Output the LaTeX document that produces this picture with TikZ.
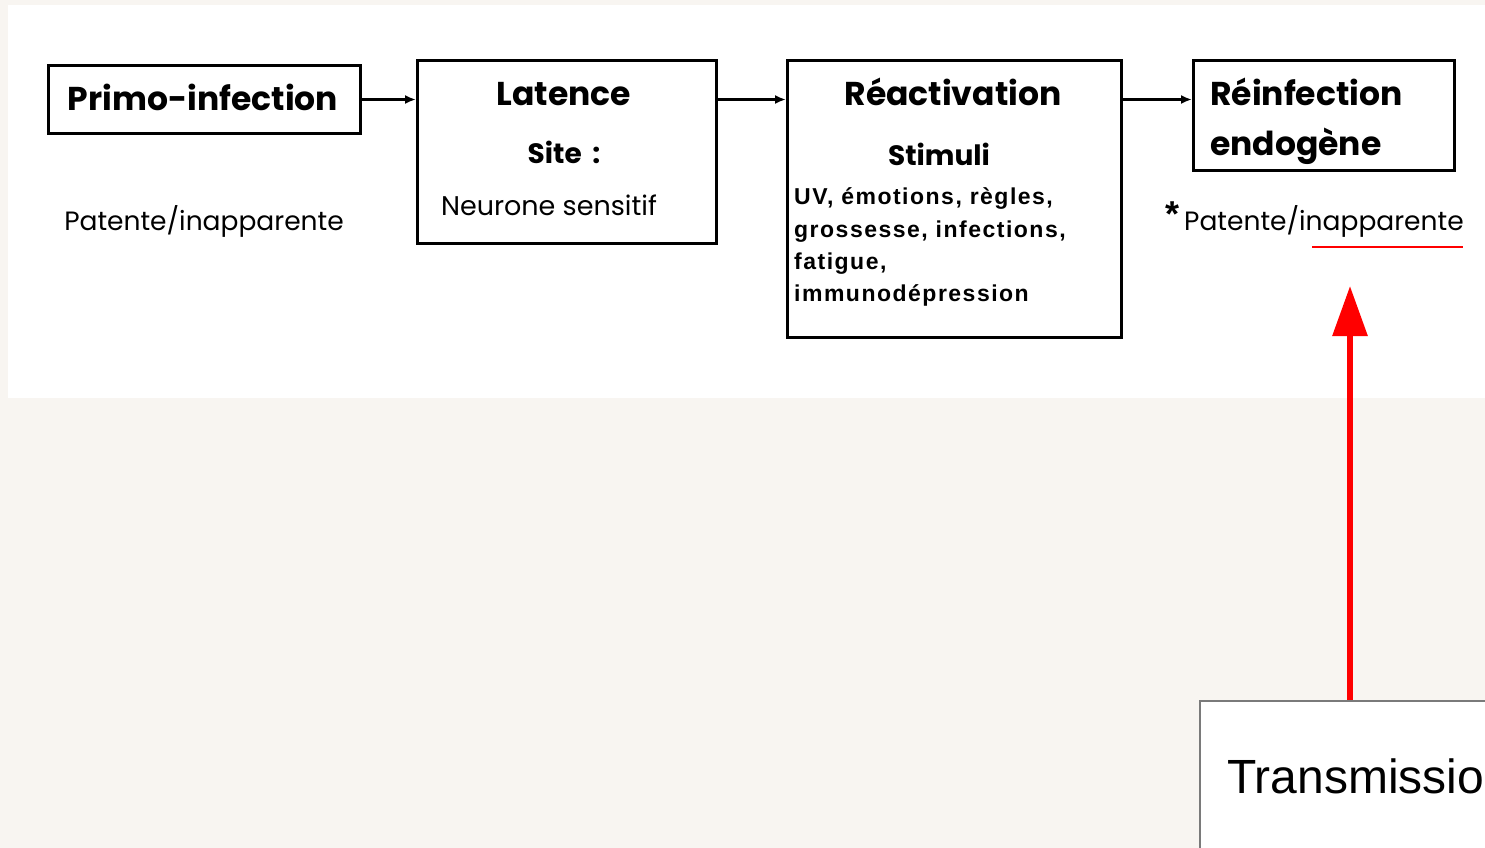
\documentclass[tikz,border=0pt]{standalone}
\usepackage{fontspec}
\usetikzlibrary{arrows.meta}
\newfontfamily\comicfont{Poppins}
\newfontfamily\stimfont{Liberation Sans}[LetterSpace=6.5]
\newfontfamily\arialfont{Liberation Sans}
\definecolor{bgcol}{HTML}{F8F5F1}
\definecolor{transborder}{HTML}{7A7A7A}
\newcommand{\fsz}[1]{\fontsize{#1}{#1}\selectfont}
\tikzset{
  box/.style={draw=black, line width=3pt, fill=white, inner sep=0pt, anchor=north west},
  conn/.style={-{Latex[length=11pt,width=9pt]}, line width=2.6pt},
  redarrow/.style={-{Triangle[length=50pt,width=34pt]}, draw=red, line width=6pt, red},
  ttl/.style={font=\comicfont\bfseries\fsz{33}, inner sep=0pt},
  sub/.style={font=\comicfont\bfseries\fsz{28}, inner sep=0pt},
  txt/.style={font=\comicfont\fsz{26.5}, inner sep=0pt},
  stim/.style={font=\stimfont\bfseries\fsz{23}, inner sep=0pt, anchor=base west},
}
\begin{document}
\begin{tikzpicture}[x=1pt,y=-1pt]
\useasboundingbox (0,0) rectangle (1485,848);
\fill[bgcol] (0,0) rectangle (1485,848);
\fill[white] (8,5) rectangle (1485,398);

% boxes
\node[box, minimum width=312pt, minimum height=68pt] (primo) at (47,64) {};
\node[box, minimum width=299pt, minimum height=183pt] (latence) at (416,59) {};
\node[box, minimum width=334pt, minimum height=277pt] (react) at (786,59) {};
\node[box, minimum width=261pt, minimum height=110pt] (reinf) at (1192,59) {};
\node[draw=transborder, line width=1.5pt, fill=white, inner sep=0pt, anchor=north west,
      minimum width=340pt, minimum height=220pt] (trans) at (1199,700) {};

% texts
\node[ttl, anchor=base] (tprimo) at (203,111) {Primo-infection};
\node[txt, anchor=base] (tpat1) at (204,230) {Patente/inapparente};
\node[ttl, anchor=base] (tlat) at (564,106) {Latence};
\node[sub, anchor=base] (tsite) at (564,164) {Site\, :};
\node[txt, font=\comicfont\fsz{27}, anchor=base] (tneur) at (549,215) {Neurone sensitif};
\node[ttl, anchor=base] (treact) at (953,106) {Réactivation};
\node[sub, anchor=base] (tstim) at (939,165) {Stimuli};
\node[stim] (s1) at (794,204) {UV, émotions, règles,};
\node[stim] (s2) at (794,237) {grossesse, infections,};
\node[stim] (s3) at (794,269) {fatigue,};
\node[stim] (s4) at (794,301) {immunodépression};
\node[ttl, anchor=base west] (treinf) at (1210,106) {Réinfection};
\node[ttl, anchor=base west] (tendo) at (1210,155) {endogène};
\node[font=\arialfont\bfseries\fsz{36}, inner sep=0pt, anchor=base west] (star) at (1165,226) {*};
\node[txt, anchor=base west] (tpat2) at (1184,230) {Patente/inapparente};
\node[font=\arialfont\fsz{48}, inner sep=0pt, anchor=base west] (ttrans) at (1227,793) {Transmissio};

% red underline
\draw[red, line width=1.5pt] (1312,247) -- (1463,247);

% connectors
\draw[conn] (primo.east) -- (primo.east -| latence.west);
\draw[conn] (latence.east |- primo.east) -- (react.west |- primo.east);
\draw[conn] (react.east |- primo.east) -- (reinf.west |- primo.east);
\coordinate (tip) at (1350,286);
\draw[redarrow] (tip |- trans.north) -- (tip);
\end{tikzpicture}
\end{document}
